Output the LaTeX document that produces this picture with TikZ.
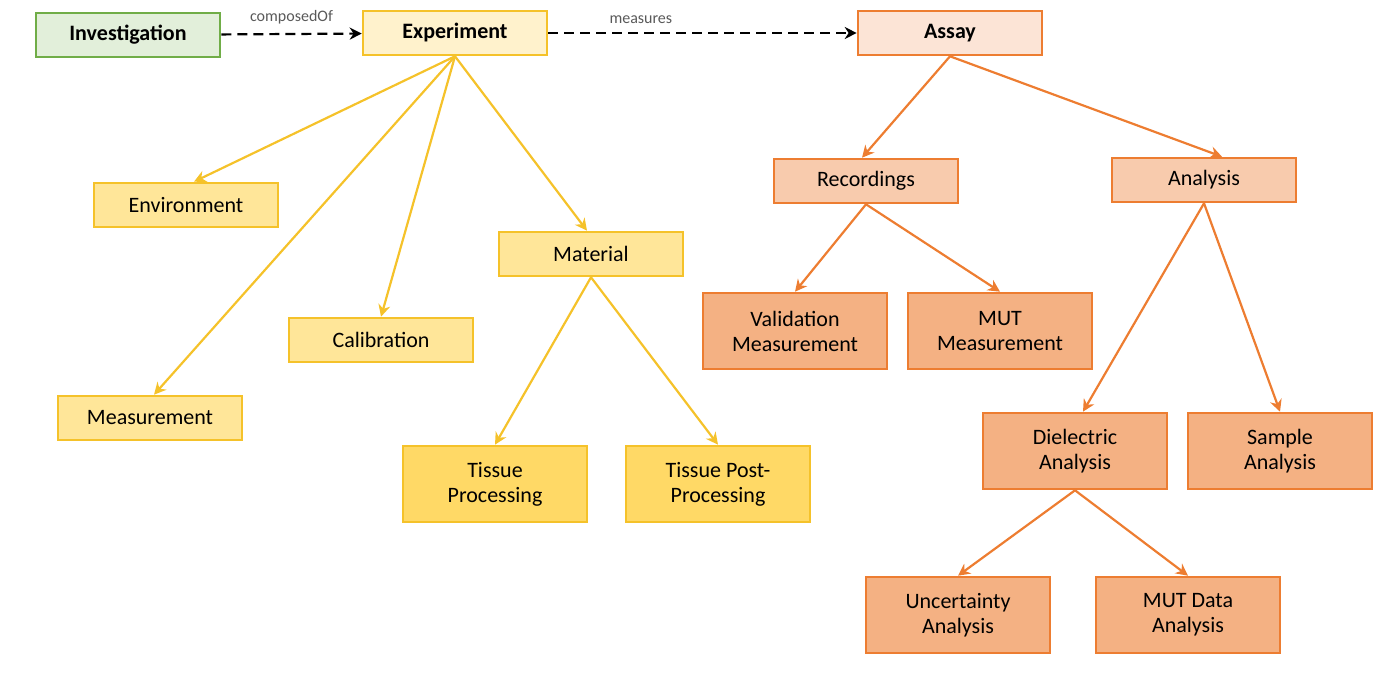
\documentclass[tikz,border=0pt]{standalone}
\usepackage{fontspec}
\setmainfont{Carlito}
\usetikzlibrary{arrows.meta,positioning}
\definecolor{grnline}{HTML}{70AD47}
\definecolor{grnfill}{HTML}{E2EFDA}
\definecolor{goldline}{HTML}{F5C22A}
\definecolor{goldA}{HTML}{FFF2CC}
\definecolor{goldB}{HTML}{FFE699}
\definecolor{goldC}{HTML}{FFD966}
\definecolor{orgline}{HTML}{ED7D31}
\definecolor{orgA}{HTML}{FCE4D6}
\definecolor{orgB}{HTML}{F8CBAD}
\definecolor{orgC}{HTML}{F4B183}
\tikzset{
  >=Stealth,
  box/.style={draw, line width=1.3pt, align=center, minimum width=92pt, minimum height=22pt, font=\fontsize{11}{12.5}\selectfont, inner sep=2pt},
  tall/.style={box, minimum height=38pt},
  head/.style={box, font=\fontsize{11}{12.5}\selectfont\bfseries},
  garrow/.style={-{Stealth[length=6pt,width=6pt]}, goldline, line width=1.1pt},
  oarrow/.style={-{Stealth[length=6pt,width=6pt]}, orgline, line width=1.1pt},
  relarrow/.style={-{Stealth[length=6pt,width=6pt]}, black, line width=1.1pt, dash pattern=on 5pt off 3pt},
  lbl/.style={font=\fontsize{8}{9}\selectfont, text=black!65}
}
\begin{document}
\begin{tikzpicture}[x=0.5pt,y=-0.5pt]
\useasboundingbox (0,0) rectangle (1374,690);

% top row
\node[head, draw=grnline, fill=grnfill] (inv) at (128,35) {Investigation};
\node[head, draw=goldline, fill=goldA] (exp) at (455,33) {Experiment};
\node[head, draw=orgline, fill=orgA] (assay) at (950,33) {Assay};

% experiment side
\node[box, draw=goldline, fill=goldB] (env) at (186,205) {Environment};
\node[box, draw=goldline, fill=goldB] (cal) at (381,340) {Calibration};
\node[box, draw=goldline, fill=goldB] (meas) at (150,418) {Measurement};
\node[box, draw=goldline, fill=goldB] (mat) at (591,254) {Material};
\node[tall, draw=goldline, fill=goldC] (tp) at (495,484) {Tissue\\Processing};
\node[tall, draw=goldline, fill=goldC] (tpp) at (718,484) {Tissue Post-\\Processing};

% assay side
\node[box, draw=orgline, fill=orgB] (rec) at (866,181) {Recordings};
\node[box, draw=orgline, fill=orgB] (ana) at (1204,180) {Analysis};
\node[tall, draw=orgline, fill=orgC] (val) at (795,331) {Validation\\Measurement};
\node[tall, draw=orgline, fill=orgC] (mut) at (1000,331) {MUT\\Measurement};
\node[tall, draw=orgline, fill=orgC] (diel) at (1075,451) {Dielectric\\Analysis};
\node[tall, draw=orgline, fill=orgC] (samp) at (1280,451) {Sample\\Analysis};
\node[tall, draw=orgline, fill=orgC] (unc) at (958,615) {Uncertainty\\Analysis};
\node[tall, draw=orgline, fill=orgC] (mutd) at (1188,615) {MUT Data\\Analysis};

% relations
\draw[relarrow] (inv) -- node[lbl, above=1pt] {composedOf} (exp);
\draw[relarrow] (exp) -- node[lbl, above=1pt, pos=0.3] {measures} (assay);

\draw[garrow] (exp.south) -- ([xshift=4pt]env.north);
\draw[garrow] (exp.south) -- ([xshift=2pt]meas.north);
\draw[garrow] (exp.south) -- (cal.north);
\draw[garrow] (exp.south) -- ([xshift=-2pt]mat.north);
\draw[garrow] (mat.south) -- (tp.north);
\draw[garrow] (mat.south) -- (tpp.north);

\draw[oarrow] (assay.south) -- ([xshift=-2pt]rec.north);
\draw[oarrow] (assay.south) -- ([xshift=9pt]ana.north);
\draw[oarrow] (rec.south) -- (val.north);
\draw[oarrow] (rec.south) -- (mut.north);
\draw[oarrow] (ana.south) -- ([xshift=4pt]diel.north);
\draw[oarrow] (ana.south) -- (samp.north);
\draw[oarrow] (diel.south) -- (unc.north);
\draw[oarrow] (diel.south) -- (mutd.north);
\end{tikzpicture}
\end{document}
